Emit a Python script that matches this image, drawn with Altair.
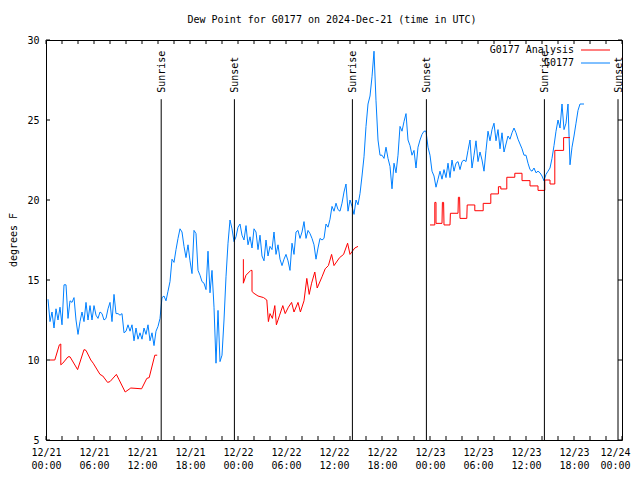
import altair as alt
import pandas as pd

FONT = "DejaVu Sans Mono"
W, H = 576, 400

title_text = "Dew Point for G0177 on 2024-Dec-21 (time in UTC)"
y_title = "degrees F"
series_names = ["G0177 Analysis", "G0177"]
series_colors = ["#ff0000", "#0080ff"]

# x tick positions (hours after 12/21 00:00 UTC)
x_label_hours = list(range(0, 73, 6))
x_minor_hours = list(range(0, 73, 2))
y_tick_values = [5, 10, 15, 20, 25, 30]

# sunrise / sunset (hours after 12/21 00:00 UTC)
sun_hours = [14.4, 23.55, 38.3, 47.55, 62.3, 71.5]
sun_labels = ["Sunrise", "Sunset", "Sunrise", "Sunset", "Sunrise", "Sunset"]

# G0177 observations, every 15 minutes starting 00:15
blue_start = 0.25
blue_step = 0.25
blue_values = [
    13.8, 12.4, 13.0,
    12.0, 13.2, 12.5, 13.3,
    12.2, 14.7, 14.7, 12.6,
    13.7, 13.6, 13.9, 12.5,
    11.6, 12.4, 13.0, 12.4,
    13.6, 12.5, 13.4, 12.5,
    13.4, 12.8, 12.6, 13.0,
    12.9, 12.5, 12.6, 13.2,
    13.6, 12.4, 14.1, 12.9,
    12.9, 12.8, 12.9, 11.7,
    11.8, 12.2, 11.8, 12.2,
    11.2, 12.0, 11.3, 11.7,
    11.3, 12.0, 11.6, 12.2,
    11.2, 11.7, 10.9, 11.8,
    12.1, 12.6, 13.9, 14.0,
    13.7, 14.3, 14.9, 16.3,
    16.1, 16.9, 17.6, 18.2,
    18.0, 17.1, 16.4, 17.2,
    16.2, 15.4, 18.1, 17.9,
    15.6, 15.3, 14.9, 14.8,
    14.4, 16.8, 14.2, 15.6,
    13.3, 9.8, 13.1, 9.9,
    10.3, 12.5, 15.2, 17.3,
    18.75, 18.2, 17.4, 17.7,
    18.3, 18.5, 17.8, 17.5,
    18.4, 17.2, 17.7, 17.0,
    18.2, 18.0, 16.9, 17.8,
    16.5, 16.2, 17.5, 16.5,
    17.1, 16.9, 18.0, 16.6,
    17.2, 16.3, 15.9, 16.3,
    16.6, 16.2, 15.6, 17.3,
    16.6, 18.0, 18.1, 17.6,
    18.0, 18.65, 17.6, 18.1,
    17.9, 17.6, 17.2, 16.3,
    17.0, 17.6, 17.5, 17.6,
    18.5, 18.3, 18.8, 19.6,
    19.3, 19.8, 19.4, 19.3,
    19.8, 20.5, 21.0, 19.3,
    20.0, 19.6, 19.1, 20.0,
    19.7, 20.4, 21.5, 22.7,
    24.6, 26.0, 26.5, 27.7,
    29.3, 26.2, 23.75, 22.8,
    22.8, 22.6, 23.3, 22.6,
    22.1, 20.7, 22.3, 21.7,
    22.8, 24.6, 24.3, 24.9,
    25.4, 23.75, 23.4, 22.8,
    23.1, 22.0, 23.3, 23.75,
    24.1, 24.3, 24.3, 23.3,
    22.8, 21.8, 21.5, 20.8,
    21.3, 21.8, 21.3, 21.9,
    21.4, 22.3, 21.4, 22.5,
    21.8, 22.3, 22.4, 21.9,
    22.4, 22.5, 22.4, 23.1,
    23.75, 22.0, 22.8, 23.7,
    22.4, 23.0, 22.5, 21.8,
    23.1, 24.3, 23.7, 24.4,
    24.8, 23.7, 24.4, 23.2,
    24.2, 23.0, 23.5, 24.0,
    23.8, 24.2, 24.5, 24.2,
    23.8, 23.5, 23.2, 22.8,
    22.8, 22.3, 21.9, 21.8,
    22.0, 21.7, 21.8, 21.7,
    21.5, 21.2, 21.6, 21.8,
    22.0, 22.6, 23.4, 24.3,
    25.0, 24.5, 26.0, 24.4,
    24.8, 26.0, 22.2, 23.3,
    24.0, 24.8, 25.6, 26.0,
    26.0, 26.0,
]

# G0177 Analysis, three separate runs (hour, value)
red1_h = [0.5, 1.1, 1.67, 1.85, 1.85, 2.1, 2.75, 3.0, 3.95, 4.75, 5.0, 5.6, 5.9,
          6.75, 7.1, 7.7, 8.0, 8.8, 9.1, 9.9, 10.6, 11.95, 12.6, 12.9, 13.6, 13.9]
red1_v = [10.0, 10.0, 10.95, 11.0, 9.7, 9.8, 10.2, 10.2, 9.4, 10.65, 10.6, 10.0, 9.8,
          9.1, 9.0, 8.6, 8.65, 9.1, 8.8, 8.0, 8.25, 8.2, 8.85, 8.9, 10.3, 10.3]
red2_h = [24.67, 24.67, 25.0, 25.6, 25.75, 25.75, 25.9, 26.5, 27.2, 27.6, 27.8, 28.0,
          28.3, 28.6, 28.8, 29.2, 29.6, 29.9, 30.3, 30.7, 31.0, 31.5, 31.8, 32.25,
          32.6, 32.9, 33.2, 33.6, 33.9, 34.5, 34.9, 35.3, 35.7, 36.0, 36.7, 37.2,
          37.7, 38.0, 38.6, 39.0]
red2_v = [16.3, 14.8, 15.3, 15.6, 15.6, 14.3, 14.2, 14.0, 13.9, 13.75, 12.4, 12.9,
          12.6, 13.4, 12.2, 12.8, 13.4, 12.9, 13.3, 13.6, 13.0, 13.6, 13.0, 13.7,
          15.1, 14.1, 14.8, 15.5, 14.5, 15.2, 15.7, 15.9, 16.6, 15.9, 16.4, 16.6,
          17.3, 16.6, 17.0, 17.1]
red3_h = [48.0, 48.6, 48.6, 48.75, 48.75, 49.5, 49.55, 49.7, 49.75, 50.5, 50.55,
          51.5, 51.55, 51.7, 51.75, 52.6, 52.65, 53.6, 53.6, 54.65, 54.65, 55.6,
          55.6, 56.55, 56.55, 56.85, 56.85, 57.6, 57.6, 58.6, 58.6, 59.5, 59.5,
          60.5, 60.5, 61.5, 61.5, 62.35, 62.35, 63.0, 63.0, 63.6, 63.6, 64.7,
          64.7, 65.5]
red3_v = [18.44, 18.44, 19.85, 19.85, 18.54, 18.54, 19.85, 19.85, 18.44, 18.44, 19.17,
          19.17, 20.17, 20.17, 18.85, 18.85, 19.69, 19.69, 19.33, 19.33, 19.79, 19.79,
          20.38, 20.38, 20.83, 20.83, 20.69, 20.69, 21.42, 21.42, 21.67, 21.67, 21.21,
          21.21, 20.88, 20.88, 20.6, 20.6, 21.25, 21.25, 21.0, 21.0, 23.1, 23.1,
          23.9, 23.9]

# ---------- tables ----------
blue_df = pd.DataFrame({
    "h": [blue_start + blue_step * i for i in range(len(blue_values))],
    "v": blue_values,
    "i": list(range(len(blue_values))),
})
rows = []
for seg, (hs, vs) in enumerate([(red1_h, red1_v), (red2_h, red2_v), (red3_h, red3_v)]):
    for i, (hh, vv) in enumerate(zip(hs, vs)):
        rows.append({"h": hh, "v": vv, "seg": seg, "i": i})
red_df = pd.DataFrame(rows)
sun_df = pd.DataFrame({"h": sun_hours, "label": sun_labels})
xt_df = pd.DataFrame({"h": x_minor_hours})
yt_df = pd.DataFrame({"v": y_tick_values})
one = pd.DataFrame({"k": [0]})

x_scale = alt.Scale(domain=[0, 72], nice=False, zero=False)
y_scale = alt.Scale(domain=[5, 30], nice=False, zero=False)

x_axis = alt.Axis(
    values=x_label_hours,
    labelExpr="['12/' + (21 + floor(datum.value / 24)), (datum.value % 24 < 10 ? '0' : '') + (datum.value % 24) + ':00']",
    domain=False, ticks=False, grid=False, title=None,
    labelFont=FONT, labelFontSize=10, labelColor="black",
    labelPadding=7, labelLineHeight=13, labelFlush=False, labelOverlap=False,
    labelOffset={"condition": {"test": "datum.value == 72", "value": -7}, "value": 0},
)
y_axis = alt.Axis(
    values=y_tick_values, domain=False, ticks=False, grid=False, title=None,
    labelFont=FONT, labelFontSize=10, labelColor="black", labelPadding=7,
)

blue = alt.Chart(blue_df).mark_line(color=series_colors[1], strokeWidth=1).encode(
    x=alt.X("h:Q", scale=x_scale, axis=x_axis),
    y=alt.Y("v:Q", scale=y_scale, axis=y_axis),
    order="i:Q",
)
red = alt.Chart(red_df).mark_line(color=series_colors[0], strokeWidth=1).encode(
    x=alt.X("h:Q", scale=x_scale),
    y=alt.Y("v:Q", scale=y_scale),
    detail="seg:N",
    order="i:Q",
)
sun_rules = alt.Chart(sun_df).mark_rule(color="black", strokeWidth=1).encode(
    x=alt.X("h:Q", scale=x_scale),
    y=alt.datum(5),
    y2=alt.datum(26.3),
)
sun_text = alt.Chart(sun_df).mark_text(
    angle=270, align="left", baseline="middle", dy=1,
    font=FONT, fontSize=10, color="black",
).encode(
    x=alt.X("h:Q", scale=x_scale),
    y=alt.datum(26.7),
    text="label:N",
)
xt_bottom = alt.Chart(xt_df).mark_rule(color="black").encode(
    x=alt.X("h:Q", scale=x_scale), y=alt.value(H), y2=alt.value(H - 4))
xt_top = alt.Chart(xt_df).mark_rule(color="black").encode(
    x=alt.X("h:Q", scale=x_scale), y=alt.value(0), y2=alt.value(4))
yt_left = alt.Chart(yt_df).mark_rule(color="black").encode(
    y=alt.Y("v:Q", scale=y_scale), x=alt.value(0), x2=alt.value(4))
yt_right = alt.Chart(yt_df).mark_rule(color="black").encode(
    y=alt.Y("v:Q", scale=y_scale), x=alt.value(W), x2=alt.value(W - 4))

title = alt.Chart(one).mark_text(font=FONT, fontSize=10, color="black",
                                 align="center", baseline="middle").encode(
    x=alt.value(286), y=alt.value(-20), text=alt.value(title_text))
ytitle = alt.Chart(one).mark_text(font=FONT, fontSize=10, color="black", angle=270,
                                  align="center", baseline="middle").encode(
    x=alt.value(-32), y=alt.value(200), text=alt.value(y_title))

leg = []
for k, (name, col) in enumerate(zip(series_names, series_colors)):
    leg.append(alt.Chart(one).mark_text(font=FONT, fontSize=10, color="black",
                                        align="right", baseline="middle").encode(
        x=alt.value(528), y=alt.value(10 + 13 * k), text=alt.value(name)))
    leg.append(alt.Chart(one).mark_rule(color=col, strokeWidth=1).encode(
        x=alt.value(535), x2=alt.value(564), y=alt.value(10 + 13 * k)))

chart = alt.layer(
    blue, red, sun_rules, sun_text, xt_bottom, xt_top, yt_left, yt_right,
    title, ytitle, *leg,
).properties(
    width=W, height=H,
    padding={"left": 38, "top": 32, "right": 10, "bottom": 32},
    autosize=alt.AutoSizeParams(type="none"),
    background="white",
).configure_view(stroke="black", strokeWidth=1)

chart.save("out.html", embed_options={"renderer": "svg", "actions": False})
